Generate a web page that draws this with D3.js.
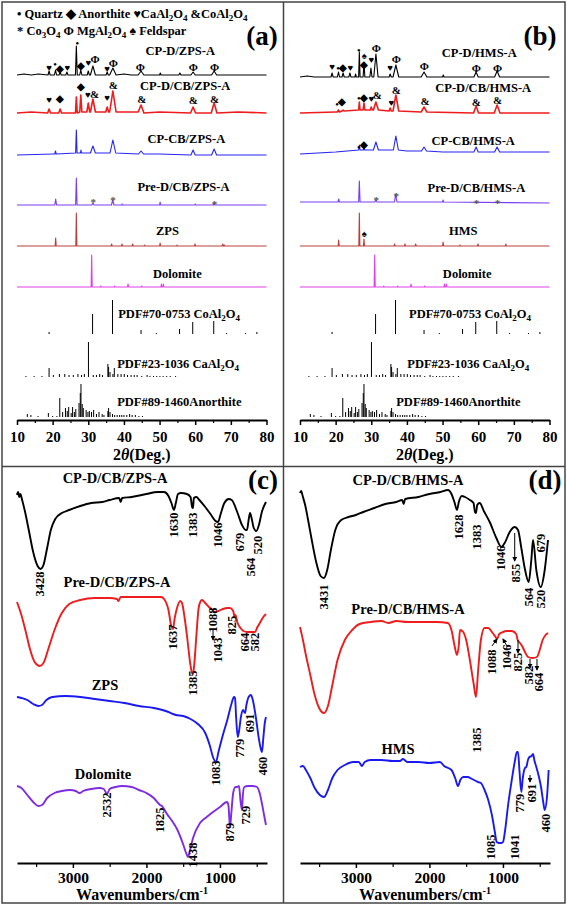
<!DOCTYPE html>
<html><head><meta charset="utf-8">
<script src="https://cdn.jsdelivr.net/npm/d3@7"></script>
<style>
body{margin:0;background:#fff}
svg{display:block}
text{font-family:"Liberation Serif","Times New Roman",serif;font-weight:bold}
</style></head>
<body><svg id="chart" width="567" height="905"></svg>
<script>
// ================= DATA =================
// ---- XRD (2θ in degrees, intensity in a.u. above each trace's baseline) ----
const xrdTicks = [10,20,30,40,50,60,70,80];
const xrdMinorTicks = [15,25,35,45,55,65,75];

const xrdA_CPD_ZPS = [[10,0],[12,1],[14,0],[16,1],[18.7,0],[19,4],[19.3,0],[20.5,0],[20.8,5],[21.1,0],[21.8,0],[22.1,3],[22.4,0],[23.7,0],[24,3],[24.3,0],[26.4,0],[26.65,29],[26.9,0],[27.6,0],[27.9,5],[28.2,0],[29.7,0],[30,4],[30.3,0],[30.6,0],[31.3,9],[32,0],[35,0],[35.3,3],[35.6,0],[36,0],[36.9,7],[37.8,0],[40,1],[42,0],[44,0],[44.8,4],[45.6,0],[50,0],[50.2,2],[50.4,0],[55.4,0],[55.7,2],[56,0],[58.8,0],[59.4,3],[60,0],[64.6,0],[65.3,4],[66,0],[70,0],[80,0]];
const xrdA_CPD_CB_ZPS = [[10,0],[14,1],[18.6,0],[19,4],[19.4,0],[21.7,0],[22.1,4],[22.5,0],[26.4,0],[26.65,16],[26.9,0],[27.6,1],[27.9,18],[28.2,1],[29.6,1],[30,10],[30.4,1],[30.6,1],[31.3,14],[32,1],[34.9,1],[35.3,6],[35.7,1],[36,1],[36.9,22],[37.8,1],[44,1],[44.8,8],[45.6,0],[50,1],[58.7,0],[59.4,6],[60.1,0],[64.5,0],[65.3,10],[66.1,0],[72,1],[80,0]];
const xrdA_CPCB_ZPS = [[10,0],[20,1],[20.6,1],[20.8,4],[21,1],[26.45,2],[26.65,25],[26.85,2],[27.8,2],[27.95,5],[28.1,2],[30.6,2],[31.3,9],[32,2],[36.1,2],[36.9,15],[37.7,2],[44.1,1],[44.8,4],[45.5,1],[50,1],[58.8,0],[59.4,5],[60,0],[64.6,0],[65.3,6],[66,0],[80,0]];
const xrdA_PreD_CB_ZPS = [[10,0],[20.6,0],[20.85,6],[21.1,0],[26.45,0],[26.65,27],[26.85,0],[31,0],[31.3,2],[31.6,0],[36.5,0],[36.85,5],[37.2,0],[39.4,0],[39.5,1],[39.6,0],[50,0],[50.15,3],[50.3,0],[59.8,0],[60,1],[60.2,0],[65.1,0],[65.3,2],[65.5,0],[80,0]];
const xrdA_ZPS = [[10,0],[20.7,0],[20.85,8],[21,0],[26.5,0],[26.65,33],[26.8,0],[36.4,0],[36.55,2],[36.7,0],[39.3,0],[39.45,2],[39.6,0],[42.3,0],[42.45,2],[42.6,0],[45.7,0],[45.8,1],[45.9,0],[50,0],[50.15,3],[50.3,0],[54.8,0],[54.9,1],[55,0],[59.8,0],[59.95,2],[60.1,0],[67.6,0],[67.75,2],[67.9,0],[68.1,0],[68.2,1],[68.3,0],[80,0]];
const xrdDolomite = [[10,0],[30.8,0],[30.95,32],[31.1,0],[33.4,0],[33.5,1],[33.6,0],[37.3,0],[37.4,1],[37.5,0],[41.0,0],[41.15,3],[41.3,0],[44.9,0],[45,1],[45.1,0],[50.4,0],[50.5,3],[50.6,0],[50.9,0],[51.05,3],[51.2,0],[80,0]];

const xrdB_CPD_HMS = [[10,0],[12,1],[14,0],[18.7,0],[19,4],[19.3,0],[20.5,0],[20.8,5],[21.1,0],[21.8,0],[22.1,4],[22.4,0],[23.7,0],[24,4],[24.3,0],[25.4,0],[25.6,3],[25.8,0],[26.45,0],[26.65,25],[26.85,0],[27.7,0],[27.95,14],[28.2,0],[29.6,0],[29.9,9],[30.2,0],[30.7,0],[31.3,23],[31.9,0],[35,0],[35.3,3],[35.6,0],[36.1,0],[36.9,12],[37.7,0],[44,0],[44.8,5],[45.6,0],[50,0],[50.2,2],[50.4,0],[58.8,0],[59.4,5],[60,0],[64.6,0],[65.3,6],[66,0],[80,0]];
const xrdB_CPD_CB_HMS = [[10,0],[20,1],[20.5,1],[20.8,3],[21.1,1],[21.8,2],[22.1,3],[22.4,2],[26.45,3],[26.65,11],[26.85,3],[27.7,3],[27.95,10],[28.2,3],[29.7,3],[30,6],[30.3,3],[30.6,3],[31.3,11],[32,3],[35,2],[35.3,5],[35.6,2],[36.1,2],[36.9,18],[37.7,2],[44,1],[44.8,6],[45.6,1],[58.7,0],[59.4,7],[60.1,0],[64.5,0],[65.3,8],[66.1,0],[80,0]];
const xrdB_CPCB_HMS = [[10,0],[15,1],[20,2],[26.45,4],[26.65,9],[26.85,4],[27.8,4],[27.95,8],[28.1,4],[30.6,4],[31.3,12],[32,4],[36.2,4],[36.9,18],[37.6,4],[40,3],[44.1,3],[44.8,7],[45.5,3],[50,2],[58.8,2],[59.4,7],[60,2],[64.6,2],[65.3,7],[66,2],[80,2]];
const xrdB_PreD_CB_HMS = [[10,0],[20.65,0],[20.85,3],[21.05,0],[26.45,0],[26.65,21],[26.85,0],[31,0],[31.3,2],[31.6,0],[36.5,0],[36.85,8],[37.2,0],[50,0],[50.15,2],[50.3,0],[80,-1]];
const xrdB_HMS = [[10,0],[20.7,0],[20.85,6],[21,0],[26.5,0],[26.65,33],[26.8,0],[27.8,0],[27.95,7],[28.1,0],[36.4,0],[36.55,2],[36.7,0],[39.3,0],[39.45,2],[39.6,0],[42.3,0],[42.45,2],[42.6,0],[50,0],[50.15,4],[50.3,0],[54.8,0],[54.9,1],[55,0],[59.8,0],[59.95,2],[60.1,0],[67.6,0],[67.75,2],[67.9,0],[80,0]];

// reference stick patterns [2θ, relative intensity]
const pdfCoAl2O4 = [[19,2],[31.2,20],[36.8,34],[44.8,4],[49.1,1],[55.6,5],[59.3,12],[65.2,13],[68.8,1],[74.1,1],[77.3,2]];
const pdfCaAl2O4 = [[12.5,1],[14.8,1],[17,1],[19.0,9],[20.2,2],[21.9,3],[23.4,3],[24.6,2],[25.8,2],[27.1,3],[28.1,2],[28.9,3],[30.05,35],[31.4,2],[32.3,2],[33.2,3],[34.0,2],[35.5,13],[35.7,10],[36.1,5],[36.9,3],[37.3,9],[38.3,3],[39.2,3],[40.1,3],[41.0,2],[42.0,2],[42.9,2],[43.7,2],[45.0,1],[46.5,2],[47.3,1],[48.3,1],[49.2,1],[50.1,1],[51,1],[52,1],[53,1],[54.5,1]];
const pdfAnorthite = [[12.9,3],[13.9,2],[15.9,1],[18.8,4],[20.0,1],[21.2,1],[22.0,19],[22.8,5],[23.6,9],[24.1,6],[24.5,10],[25.2,4],[25.6,10],[26.1,5],[26.5,8],[27.4,14],[27.75,24],[27.95,33],[28.3,13],[28.6,9],[29.4,7],[29.9,5],[30.3,6],[30.9,5],[31.5,7],[32.3,3],[33.0,5],[33.9,3],[34.4,2],[35.5,6],[35.7,9],[36.1,5],[36.8,3],[37.4,2],[38.1,2],[38.8,2],[39.4,2],[40.0,2],[40.8,2],[41.6,3],[42.3,2],[43.2,2],[44.2,1],[45.2,1]];

const xrdNamesA = ['CP-D/ZPS-A','CP-D/CB/ZPS-A','CP-CB/ZPS-A','Pre-D/CB/ZPS-A','ZPS','Dolomite'];
const xrdNamesB = ['CP-D/HMS-A','CP-D/CB/HMS-A','CP-CB/HMS-A','Pre-D/CB/HMS-A','HMS','Dolomite'];
const pdfNames = ['PDF#70-0753 CoAl_2O_4','PDF#23-1036 CaAl_2O_4','PDF#89-1460Anorthite'];

// phase markers [glyph, 2θ, level]
const symA = [
 ['♥',19.0,352],['●',20.7,356],['◆',22.1,351],['♥',24.1,352],['●',26.9,377],['◆',28.0,354],['♥',30.0,357],['Φ',31.9,361],['♥',35.3,351],['Φ',37.0,357],['Φ',44.6,353],['Φ',59.5,353],['Φ',65.4,353],
 ['♥',19.0,320],['◆',22.1,321],['◆',27.9,333],['♥',29.9,325],['&',31.8,326],['♥',35.3,322],['&',37.0,335],['&',45.0,321],['&',59.5,320],['&',65.4,321]
];
const starA = [[31.4,221],[36.9,223],[65.4,219]];
const symB = [
 ['♥',19.0,353],['●',20.7,352],['◆',22.1,352],['♥',24.1,352],['●',26.5,370],['♠',28.0,364],['◆',28.0,355],['♥',30.0,360],['Φ',31.4,372],['♥',35.3,352],['Φ',37.0,361],['Φ',44.9,354],['Φ',59.5,352],['Φ',65.4,352],
 ['●',20.4,316],['◆',21.8,318],['●',26.5,322],['◆',28.0,322],['♥',30.0,321],['&',31.7,325],['♥',35.6,317],['&',37.0,330],['&',45.1,319],['&',59.5,318],['&',65.4,320],
 ['●',26.5,273],['◆',28.0,275],
 ['♠',28.0,186]
];
const starB = [[31.4,223],[37.0,227],[59.5,220],[65.4,220]];

// ---- FTIR (wavenumber cm-1, transmittance a.u. incl. stacking) ----
const ftirTicks = [3000,2000,1000];
const ftirMinorTicks = [3500,2500,1500,500];

const ftirC_CPD_CB_ZPS = [[3760,368],[3745,371],[3730,366],[3715,369],[3690,363],[3650,351],[3600,333],[3540,311],[3480,297],[3440,294],[3400,298],[3350,315],[3300,333],[3240,344],[3150,350],[3050,353],[2900,357],[2750,360],[2600,361],[2500,363],[2370,365],[2350,361],[2330,365],[2200,366],[2000,369],[1850,371],[1760,371],[1700,367],[1660,360],[1625,353],[1600,360],[1570,369],[1530,370],[1450,369],[1400,366],[1378,356],[1366,355],[1355,365],[1320,366],[1280,363],[1200,356],[1120,348],[1060,342],[1026,341],[990,349],[940,360],[880,364],[840,363],[760,350],[700,338],[650,333],[632,333],[610,343],[591,350],[570,345],[540,335],[505,332],[470,338],[430,351],[374,361]];
const ftirC_PreD_CB_ZPS = [[3760,261],[3700,248],[3640,231],[3580,213],[3520,201],[3450,197],[3400,200],[3330,215],[3250,233],[3150,250],[3050,259],[2900,263],[2700,265],[2500,265],[2400,264],[2380,262],[2350,266],[2250,266],[2000,266],[1800,266],[1760,264],[1700,253],[1665,238],[1638,234],[1615,245],[1580,256],[1540,262],[1516,260],[1480,245],[1440,222],[1405,200],[1380,190],[1366,189],[1350,198],[1320,228],[1290,255],[1260,262],[1244,263],[1200,260],[1150,256],[1100,253],[1067,251],[1020,252],[960,254],[900,255],[863,255],[820,252],[800,246],[790,248],[760,240],[720,235],[680,232],[632,231],[580,231],[523,231],[490,236],[450,241],[410,246],[374,249]];
const ftirC_ZPS = [[3760,166],[3700,165],[3620,163],[3540,159],[3470,157],[3420,158],[3360,163],[3280,166],[3100,167],[2900,166],[2700,164],[2500,162],[2300,160],[2100,157],[1900,155],[1700,151],[1640,149],[1600,148],[1500,147],[1400,144],[1300,139],[1200,130],[1140,118],[1090,105],[1054,101],[1020,111],[960,128],[900,143],[840,160],[810,166],[795,165],[780,146],[758,126],[740,132],[715,146],[686,153],[670,151],[659,150],[640,158],[610,166],[578,168],[550,162],[510,145],[470,124],[440,113],[428,111],[410,125],[390,140],[374,146]];
const ftirC_Dolomite = [[3760,77],[3700,75],[3620,68],[3540,61],[3470,57],[3420,58],[3350,65],[3250,70],[3150,72],[3040,73],[2960,72],[2910,70],[2860,72],[2750,74],[2640,75],[2580,74],[2536,69],[2500,74],[2420,76],[2330,77],[2200,76],[2100,73],[2000,70],[1900,65],[1840,60],[1815,58],[1790,57],[1760,54],[1720,49],[1650,42],[1584,34],[1502,19],[1460,10],[1434,6],[1410,12],[1366,25],[1271,40],[1180,46],[1094,51],[1000,56],[904,61],[885,58],[863,36],[845,50],[820,70],[790,76],[768,76],[741,77],[720,62],[700,53],[690,66],[670,76],[618,77],[560,77],[496,76],[460,70],[430,60],[400,48],[374,38]];

const ftirD_CPD_CB_HMS = [[3760,370],[3745,372],[3720,366],[3690,358],[3650,343],[3600,323],[3540,301],[3480,287],[3434,285],[3390,293],[3340,313],[3280,333],[3200,343],[3100,346],[3000,348],[2900,351],[2750,355],[2600,359],[2450,361],[2370,363],[2350,359],[2330,364],[2150,366],[2000,369],[1850,371],[1747,373],[1700,369],[1660,361],[1625,353],[1600,361],[1560,367],[1516,366],[1450,363],[1400,360],[1380,351],[1366,350],[1350,358],[1316,360],[1260,352],[1180,341],[1090,325],[1022,316],[976,320],[908,331],[840,336],[795,333],[750,315],[704,295],[650,281],[614,303],[591,323],[546,293],[486,276],[432,293],[387,323]];
const ftirD_PreD_CB_HMS = [[3760,236],[3720,223],[3680,208],[3620,188],[3560,168],[3500,155],[3434,150],[3380,157],[3320,178],[3250,203],[3150,223],[3050,233],[2950,239],[2800,241],[2650,242],[2560,240],[2450,242],[2300,241],[2100,241],[1900,241],[1750,240],[1700,233],[1660,218],[1625,208],[1600,218],[1584,233],[1540,231],[1500,223],[1450,203],[1400,180],[1366,166],[1340,190],[1300,223],[1250,235],[1200,235],[1150,231],[1100,226],[1081,224],[1050,229],[1000,231],[950,232],[880,232],[820,229],[800,223],[780,221],[740,217],[700,211],[659,206],[600,205],[537,206],[500,213],[460,223],[420,228],[387,230]];
const ftirD_HMS = [[3760,96],[3720,97],[3680,93],[3620,85],[3560,75],[3490,68],[3434,66],[3380,73],[3320,85],[3250,93],[3150,98],[3039,101],[2960,101],[2917,97],[2880,101],[2800,103],[2650,103],[2500,102],[2400,102],[2360,104],[2300,101],[2150,101],[2000,100],[1856,101],[1800,97],[1700,93],[1650,85],[1611,77],[1580,83],[1540,86],[1480,86],[1420,84],[1340,81],[1300,80],[1250,73],[1200,63],[1150,48],[1110,31],[1085,21],[1050,20],[1020,20],[999,21],[970,33],[930,58],[880,83],[840,101],[810,111],[795,111],[775,92],[750,71],[730,85],[700,95],[682,96],[660,103],[640,106],[610,107],[591,109],[570,102],[546,96],[510,86],[482,76],[450,60],[432,53],[401,66],[378,93]];

const ftirNamesC = [['CP-D/CB/ZPS-A',2427,380],['Pre-D/CB/ZPS-A',2400,276],['ZPS',2563,173],['Dolomite',2590,84]];
const ftirNamesD = [['CP-D/CB/HMS-A',2291,378],['Pre-D/CB/HMS-A',2291,249],['HMS',2427,109]];

// band labels [text, wavenumber position, level]
const bandsC = [['3428',3447,279],['1630',1625,338],['1383',1366,338],['1046',1026,328],['679',727,321],['564',578,296],['520',482,318],
 ['1637',1638,226],['1385',1366,180],['1088',1094,243],['1043',1026,213],['825',836,238],['664',659,221],['582',523,221],
 ['1083',1054,90],['779',727,115],['691',591,140],['460',414,97],
 ['2532',2536,58],['1825',1815,43],['1438',1366,8],['879',863,31],['729',646,48]];
const bandsD = [['3431',3434,266],['1628',1598,336],['1383',1353,326],['1046',1026,305],['855',822,290],['564',646,266],['520',482,264],['679',482,320],
 ['1385',1353,123],['1088',1149,201],['1046',945,206],['825',795,201],['582',646,188],['664',510,181],
 ['1085',1162,16],['1041',836,16],['779',768,60],['691',605,70],['460',414,40]];
// arrows [wn1, T1, wn2, T2] (head at second point)
const arrowsC = [[1094,233,1094,223]];
const arrowsD = [[840,330,840,302],[1149,217,1081,224],[945,217,999,224],[795,223,795,210],[632,204,632,195],[537,204,537,193],[632,88,632,81]];

// ================= DRAWING =================
const svg = d3.select('#chart');
const defs = svg.append('defs');
defs.append('marker').attr('id','ah').attr('viewBox','0 0 6 6').attr('refX',5).attr('refY',3)
  .attr('markerWidth',5).attr('markerHeight',5).attr('orient','auto')
  .append('path').attr('d','M0,0L6,3L0,6Z').attr('fill','#000');

function rich(t, s, sub){
  s.split(/(_\d|\^-?\d)/).forEach(p=>{
    if(!p) return;
    if(p[0]==='_') t.append('tspan').attr('baseline-shift',-3).attr('font-size',sub).text(p.slice(1));
    else if(p[0]==='^') t.append('tspan').attr('baseline-shift',6).attr('font-size',sub).text(p.slice(1));
    else t.append('tspan').text(p);
  });
  return t;
}

// frame
svg.append('rect').attr('x',2).attr('y',2).attr('width',563).attr('height',901)
  .attr('fill','none').attr('stroke','#444').attr('stroke-width',1.5);
svg.append('line').attr('x1',283.5).attr('x2',283.5).attr('y1',2).attr('y2',903).attr('stroke','#444').attr('stroke-width',1.5);
svg.append('line').attr('x1',2).attr('x2',565).attr('y1',466.5).attr('y2',466.5).attr('stroke','#444').attr('stroke-width',1.5);

const xrdColors = ['#000000','#ee1c1c','#2424f4','#7a3cf2','#b8403a','#e03ee6'];
const ftirColorsC = ['#000000','#ee1c1c','#1a1af0','#7f2be2'];
const ftirColorsD = ['#000000','#ee1c1c','#1a1af0'];
const xrdOffsetsA = [345,307,265,215,174,133];
const xrdOffsetsB = [343,307,266,218,174,133];
const pdfOffsets = [86,43,3];

function xrdPanel(r0, r1, series, offsets, names, namePos, pdfPos, syms, stars, tag){
  const g = svg.append('g');
  const x = d3.scaleLinear().domain([10,80]).range([r0,r1]);
  const y = d3.scaleLinear().domain([0,420]).range([420,0]);
  series.forEach((s,i)=>{
    const off = offsets[i];
    g.append('path').datum(s).attr('fill','none').attr('stroke',xrdColors[i])
      .attr('stroke-width', i===1?1.6:1.1).attr('stroke-linejoin','round')
      .attr('d', d3.line().x(d=>x(d[0])).y(d=>y(d[1]+off)));
    g.append('text').attr('x',x(namePos[i][0])).attr('y',y(namePos[i][1]))
      .attr('text-anchor','middle').attr('font-size',12.5).text(names[i]);
  });
  [pdfCoAl2O4,pdfCaAl2O4,pdfAnorthite].forEach((p,i)=>{
    const off = pdfOffsets[i];
    g.selectAll(null).data(p).join('line')
      .attr('x1',d=>x(d[0])).attr('x2',d=>x(d[0]))
      .attr('y1',y(off)).attr('y2',d=>y(off+d[1])).attr('stroke','#000').attr('stroke-width',1);
    rich(g.append('text').attr('x',x(pdfPos[i][0])).attr('y',y(pdfPos[i][1])).attr('font-size',12.5), pdfNames[i], 9);
  });
  g.selectAll(null).data(syms).join('text')
    .attr('x',d=>x(d[1])).attr('y',d=>y(d[2])).attr('text-anchor','middle').attr('dominant-baseline','central')
    .attr('font-size',d=>d[0]==='●'?6:(d[0]==='&'||d[0]==='Φ'?11:9.5)).attr('font-weight',d=>d[0]==='Φ'?'normal':'bold')
    .text(d=>d[0]);
  g.selectAll(null).data(stars).join('text')
    .attr('x',d=>x(d[0])).attr('y',d=>y(d[1])+3).attr('text-anchor','middle').attr('dominant-baseline','central')
    .attr('font-size',11).attr('fill','#555').text('*');
  // axis
  const ax = g.append('g').attr('transform','translate(0,420)')
    .call(d3.axisBottom(x).tickValues(xrdTicks).tickSize(5).tickSizeOuter(0).tickPadding(6));
  ax.select('.domain').attr('stroke-width',2);
  ax.selectAll('.tick line').attr('stroke-width',1.5);
  ax.selectAll('.tick text').attr('font-size',15).attr('font-family','"Liberation Serif",serif').attr('font-weight','bold').attr('fill','#000');
  const axm = g.append('g').attr('transform','translate(0,420)')
    .call(d3.axisBottom(x).tickValues(xrdMinorTicks).tickSize(3).tickSizeOuter(0).tickFormat(''));
  axm.select('.domain').remove();
  axm.selectAll('.tick line').attr('stroke-width',1.2);
  const t = g.append('text').attr('x',(r0+r1)/2).attr('y',460).attr('text-anchor','middle').attr('font-size',16);
  t.append('tspan').text('2');
  t.append('tspan').attr('font-style','italic').text('θ');
  t.append('tspan').text('(Deg.)');
  g.append('text').attr('x',tag[1]).attr('y',45).attr('text-anchor','middle').attr('font-size',27).text(tag[0]);
}

xrdPanel(17,266.5,
  [xrdA_CPD_ZPS,xrdA_CPD_CB_ZPS,xrdA_CPCB_ZPS,xrdA_PreD_CB_ZPS,xrdA_ZPS,xrdDolomite],
  xrdOffsetsA, xrdNamesA,
  [[55.8,365],[57.2,330],[57.5,277],[56.7,229],[52.2,185],[55.0,142]],
  [[38.4,102],[38.1,52],[38.1,14]], symA, starA, ['(a)',262]);
xrdPanel(300,549.5,
  [xrdB_CPD_HMS,xrdB_CPD_CB_HMS,xrdB_CPCB_HMS,xrdB_PreD_CB_HMS,xrdB_HMS,xrdDolomite],
  xrdOffsetsB, xrdNamesB,
  [[60.3,363],[61.4,328],[58.6,275],[59.5,228],[55.8,185],[56.9,142]],
  [[40.6,102],[40.1,52],[37.0,14]], symB, starB, ['(b)',540]);

// legend (panel a)
rich(svg.append('text').attr('x',17).attr('y',18).attr('font-size',12.5),'• Quartz ◆ Anorthite ♥CaAl_2O_4 &CoAl_2O_4',9);
rich(svg.append('text').attr('x',17).attr('y',35).attr('font-size',12.5),'* Co_3O_4 Φ MgAl_2O_4 ♠ Feldspar',9);

function ftirPanel(r0, r1, series, colors, names, bands, arrows, tag){
  const g = svg.append('g');
  const x = d3.scaleLinear().domain([3760,360]).range([r0,r1]);
  const y = d3.scaleLinear().domain([0,400]).range([863,463]);
  series.forEach((s,i)=>{
    g.append('path').datum(s).attr('fill','none').attr('stroke',colors[i]).attr('stroke-width',1.9)
      .attr('stroke-linejoin','round')
      .attr('d', d3.line().curve(d3.curveMonotoneX).x(d=>x(d[0])).y(d=>y(d[1])));
  });
  g.selectAll(null).data(names).join('text')
    .attr('x',d=>x(d[1])).attr('y',d=>y(d[2])).attr('text-anchor','middle').attr('font-size',14.5).text(d=>d[0]);
  g.selectAll(null).data(bands).join('text')
    .attr('transform',d=>`translate(${x(d[1])},${y(d[2])}) rotate(-90)`)
    .attr('text-anchor','middle').attr('dominant-baseline','central').attr('font-size',12.5).text(d=>d[0]);
  g.selectAll(null).data(arrows).join('line')
    .attr('x1',d=>x(d[0])).attr('y1',d=>y(d[1])).attr('x2',d=>x(d[2])).attr('y2',d=>y(d[3]))
    .attr('stroke','#000').attr('stroke-width',1).attr('marker-end','url(#ah)');
  const ax = g.append('g').attr('transform','translate(0,863)')
    .call(d3.axisBottom(x).tickValues(ftirTicks).tickSize(5).tickSizeOuter(0).tickPadding(4).tickFormat(d3.format('d')));
  ax.select('.domain').attr('stroke-width',2);
  ax.selectAll('.tick line').attr('stroke-width',1.5);
  ax.selectAll('.tick text').attr('font-size',15.5).attr('font-family','"Liberation Serif",serif').attr('font-weight','bold').attr('fill','#000');
  const axm = g.append('g').attr('transform','translate(0,863)')
    .call(d3.axisBottom(x).tickValues(ftirMinorTicks).tickSize(4).tickSizeOuter(0).tickFormat(''));
  axm.select('.domain').remove();
  axm.selectAll('.tick line').attr('stroke-width',1.2);
  rich(g.append('text').attr('x',(r0+r1)/2).attr('y',900).attr('text-anchor','middle').attr('font-size',16),'Wavenumbers/cm^-1',10);
  g.append('text').attr('x',tag[1]).attr('y',489).attr('text-anchor','middle').attr('font-size',27).text(tag[0]);
}

ftirPanel(17,267,[ftirC_CPD_CB_ZPS,ftirC_PreD_CB_ZPS,ftirC_ZPS,ftirC_Dolomite],ftirColorsC,ftirNamesC,bandsC,arrowsC,['(c)',263]);
ftirPanel(300,550,[ftirD_CPD_CB_HMS,ftirD_PreD_CB_HMS,ftirD_HMS],ftirColorsD,ftirNamesD,bandsD,arrowsD,['(d)',545]);
</script></body></html>
